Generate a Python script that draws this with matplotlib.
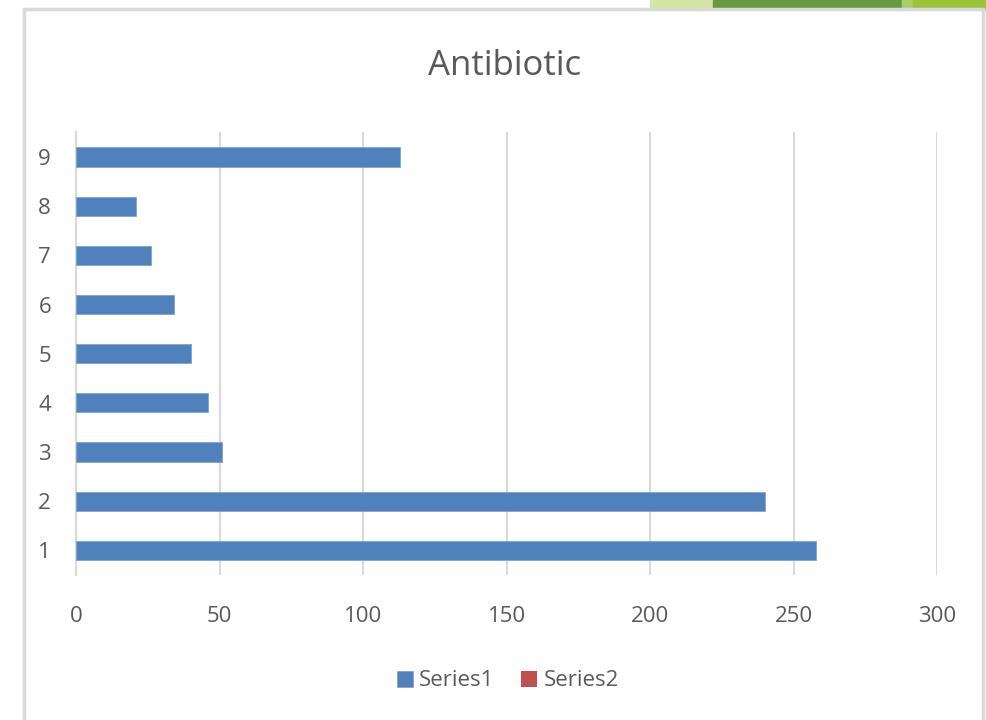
import matplotlib.pyplot as plt
from matplotlib.patches import Rectangle

# data
categories = ['1', '2', '3', '4', '5', '6', '7', '8', '9']
series1 = [258, 240, 51, 46, 40, 34, 26, 21, 113]
series2 = [0, 0, 0, 0, 0, 0, 0, 0, 0]
xticks = [0, 50, 100, 150, 200, 250, 300]

plt.rcParams['font.family'] = ['Liberation Sans Narrow', 'Open Sans', 'DejaVu Sans']
text_color = '#595959'
grid_color = '#d9d9d9'

fig = plt.figure(figsize=(9.86, 7.2), dpi=100)
ax = fig.add_axes([76 / 986, 1 - 575 / 720, (937 - 76) / 986, (575 - 132.4) / 720])

pos = list(range(1, len(categories) + 1))
ax.barh(pos, series1, height=0.39, color='#4f81bd', edgecolor='#7fa3d0', linewidth=0.6,
        label='Series1', zorder=3)
ax.barh(pos, series2, height=0.39, color='#c0504d', label='Series2', zorder=3)

ax.set_xlim(0, 300)
ax.set_ylim(0.5, len(categories) + 0.5)
ax.set_xticks(xticks)
ax.set_xticklabels([str(t) for t in xticks])
ax.set_yticks(pos)
ax.set_yticklabels(categories)
ax.tick_params(axis='both', length=0, labelsize=16, labelcolor=text_color)
ax.tick_params(axis='x', pad=22)
ax.tick_params(axis='y', pad=18)
ax.grid(axis='x', color=grid_color, linewidth=1.5, zorder=0)
for side in ['top', 'right', 'bottom']:
    ax.spines[side].set_visible(False)
ax.spines['left'].set_color(grid_color)
ax.spines['left'].set_linewidth(1.5)

fig.text(505 / 986, 1 - 66 / 720, 'Antibiotic', ha='center', va='center',
         fontsize=25, color=text_color)

leg = fig.legend(loc='center', bbox_to_anchor=(508 / 986, 1 - 681 / 720), ncol=2,
                 frameon=False, fontsize=16, handlelength=0.7, handleheight=0.7,
                 handletextpad=0.3, columnspacing=1.2)
for t in leg.get_texts():
    t.set_color(text_color)

# slide background decoration along the top edge and chart border
deco = [(650, 713, '#d3e4a4'), (713, 902, '#6a9a3f'), (902, 913, '#a9cf6a'), (913, 986, '#9bc43b')]
for x0, x1, c in deco:
    fig.patches.append(Rectangle((x0 / 986, 1 - 9 / 720), (x1 - x0) / 986, 9 / 720,
                                 transform=fig.transFigure, color=c, zorder=0))
fig.patches.append(Rectangle((24 / 986, -0.01), (983 - 24) / 986, 1 - 9 / 720 + 0.01,
                             transform=fig.transFigure, fill=False, edgecolor=grid_color,
                             linewidth=2.5, zorder=1))

fig.savefig('out.png', dpi=100)
